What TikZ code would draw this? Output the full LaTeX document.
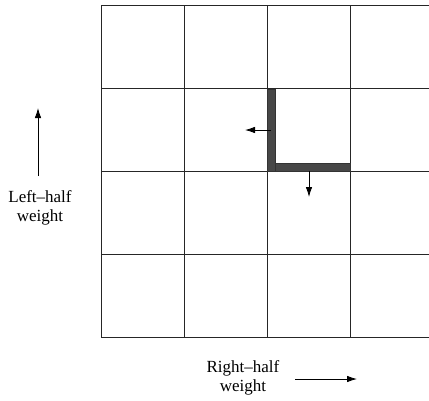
\documentclass[tikz,border=0pt]{standalone}
\usepackage{fontspec}
\setmainfont{Liberation Serif}
\usetikzlibrary{arrows.meta}
\begin{document}
\begin{tikzpicture}[x=1pt,y=-1pt,
  gridline/.style={line width=0.9pt,black!85},
  wall/.style={fill=black!72,draw=black!80,line width=0.4pt},
  move/.style={line width=0.8pt,-{Latex[length=10pt,width=6.5pt]}},
  axislabel/.style={font=\fontsize{17}{19}\selectfont,align=center,inner sep=0pt}]
\useasboundingbox (0,0) rectangle (429,400);
% 4x4 grid of cells, the right border runs off the page
\foreach \x in {101,184,267,350}
  \draw[gridline] (\x,5) -- (\x,337);
\foreach \y in {5,88,171,254,337}
  \draw[gridline] (101,\y) -- (429,\y);
% L-shaped boundary inside the grid
\fill[wall] (267,89) rectangle (275,171);
\fill[wall] (275,163) rectangle (350,171);
\draw[wall] (267,89) rectangle (275,171);
\draw[wall] (275,163) rectangle (350,171);
% moves away from the boundary
\coordinate (wl) at (271,130);
\coordinate (wlend) at (245,130);
\coordinate (wb) at (309,171);
\coordinate (wbend) at (309,197);
\draw[move] (wl) -- (wlend);
\draw[move] (wb) -- (wbend);
% axis arrows and labels
\coordinate (ya) at (38,176);
\coordinate (yb) at (38,108);
\draw[move] (ya) -- (yb);
\node[axislabel] (ylab) at (40,208) {Left–half\\weight};
\coordinate (xa) at (295,379);
\coordinate (xb) at (357,379);
\draw[move] (xa) -- (xb);
\node[axislabel] (xlab) at (243,378) {Right–half\\weight};
\end{tikzpicture}
\end{document}
